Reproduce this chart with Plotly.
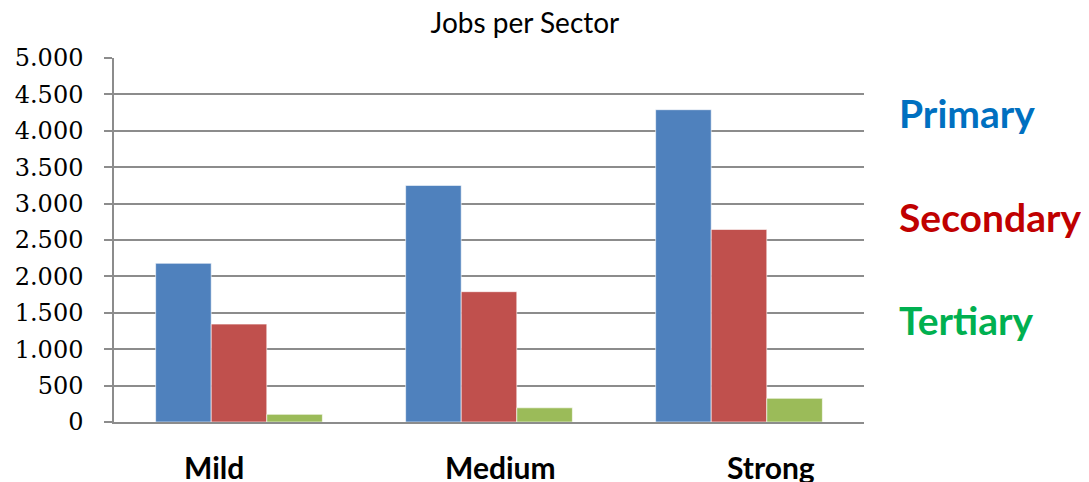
import plotly.graph_objects as go

categories = ["Mild", "Medium", "Strong"]
series_names = ["Primary", "Secondary", "Tertiary"]
primary = [2180, 3250, 4290]
secondary = [1345, 1790, 2645]
tertiary = [105, 195, 325]
bar_colors = ["#4F81BD", "#C0504D", "#9BBB59"]
label_colors = ["#0070C0", "#C00000", "#00B050"]
label_y = [4.25, 2.82, 1.40]  # vertical placement of the side labels (thousands)
cat_label_shift = [-25, 11, 32]  # horizontal offsets of the category labels (px)

fig = go.Figure()
for name, vals, col in zip(series_names, [primary, secondary, tertiary], bar_colors):
    fig.add_trace(go.Bar(
        x=categories, y=vals, name=name,
        marker=dict(color=col, line=dict(color="rgba(255,255,255,0.6)", width=1)),
    ))

for name, col, yy in zip(series_names, label_colors, label_y):
    fig.add_annotation(
        x=1.044, xref="paper", xanchor="left",
        y=yy * 1000, yref="y", yanchor="middle",
        text=f"<b>{name}</b>", showarrow=False,
        font=dict(family="Lato", size=39, color=col),
    )

for cat, dx in zip(categories, cat_label_shift):
    fig.add_annotation(
        x=cat, xref="x", xanchor="center", xshift=dx,
        y=0, yref="paper", yanchor="top", yshift=-25,
        text=f"<b>{cat}</b>", showarrow=False,
        font=dict(family="Lato", size=30, color="black"),
    )

# page body has an 8px default margin, margins compensate for it
fig.update_layout(
    width=1089, height=482,
    margin=dict(l=106, r=233, t=50, b=68, autoexpand=False),
    paper_bgcolor="white", plot_bgcolor="white",
    barmode="group", bargap=0.333, bargroupgap=0,
    showlegend=False,
    separators=",.",
    title=dict(text="Jobs per Sector", x=0.4747, xanchor="center", y=0.968, yanchor="middle",
               font=dict(family="Lato", size=28, color="black")),
    xaxis=dict(
        automargin=False,
        showgrid=False, showline=True, linecolor="#8c8c8c", linewidth=1.5,
        ticks="", showticklabels=False,
    ),
    yaxis=dict(
        automargin=False,
        range=[0, 5000], dtick=500, tickformat=",d",
        showgrid=True, gridcolor="#8c8c8c", gridwidth=1.5,
        showline=True, linecolor="#8c8c8c", linewidth=1.5,
        ticks="outside", ticklen=8, tickcolor="#8c8c8c", tickwidth=1.5,
        ticklabelstandoff=16,
        tickfont=dict(family="DejaVu Serif", size=24, color="black"),
        zeroline=False,
    ),
)

fig.write_html("out.html")
